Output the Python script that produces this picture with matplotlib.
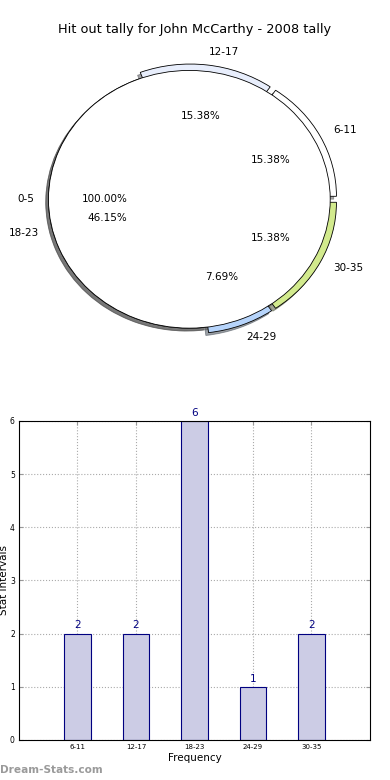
import matplotlib
matplotlib.use("Agg")
import matplotlib.pyplot as plt

# data
pie_labels = ["6-11", "12-17", "18-23", "24-29", "30-35"]
pie_counts = [2, 2, 6, 1, 2]
pie_colors = ["#ffffff", "#e8eefc", "#ffffff", "#b6d4fb", "#d2ea8d"]
pie_explode = [0.05, 0.05, 0.0, 0.045, 0.05]

overlay_labels = ["0-5"]
overlay_counts = [1]

bar_labels = ["6-11", "12-17", "18-23", "24-29", "30-35"]
bar_counts = [2, 2, 6, 1, 2]

title = "Hit out tally for John McCarthy - 2008 tally"

fig = plt.figure(figsize=(3.9, 7.8), dpi=100)

shadow_style = dict(ox=-0.014, oy=-0.016)

# pie part
ax1 = fig.add_axes([0.034, 0.538, 0.903, 0.413])
ax1.pie(
    pie_counts,
    labels=pie_labels,
    colors=pie_colors,
    explode=pie_explode,
    autopct="%1.2f%%",
    shadow=shadow_style,
    startangle=0,
    wedgeprops=dict(edgecolor="black", linewidth=0.6),
    textprops=dict(fontsize=7.5),
)
ax1.pie(
    overlay_counts,
    labels=overlay_labels,
    colors=["white"],
    autopct="%1.2f%%",
    shadow=shadow_style,
    startangle=0,
    wedgeprops=dict(edgecolor="black", linewidth=0.6),
    textprops=dict(fontsize=7.5),
)
ax1.set_aspect("auto")
ax1.set_xlim(-1.25, 1.25)
ax1.set_ylim(-1.25, 1.25)

fig.text(0.5, 1 - 30 / 780, title, ha="center", va="center", fontsize=9.3)

# bar part
ax2 = fig.add_axes([0.0487, 0.0513, 0.9, 0.409])
xpos = list(range(1, len(bar_counts) + 1))
ax2.bar(
    xpos,
    bar_counts,
    width=0.45,
    color="#cccce5",
    edgecolor="navy",
    linewidth=0.8,
    zorder=2,
)
for x, v in zip(xpos, bar_counts):
    ax2.text(x, v + 0.06, str(v), ha="center", va="bottom",
             color="navy", fontsize=7.5)

ax2.set_xlim(0, 6)
ax2.set_ylim(0, 6)
ax2.set_xticks(xpos)
ax2.set_xticklabels(bar_labels, fontsize=5)
ax2.set_yticks(range(0, 7))
ax2.tick_params(axis="y", labelsize=5.5)
ax2.tick_params(direction="in", top=True, right=True, length=3,
                color="#999999", pad=3)
ax2.grid(True, linestyle=":", color="#aaaaaa", linewidth=0.8, zorder=0)
ax2.set_axisbelow(True)
ax2.set_xlabel("Frequency", fontsize=7.5, labelpad=2)
ax2.set_ylabel("Stat Intervals", fontsize=7.5)
ax2.yaxis.set_label_coords(-0.028, 0.5)

fig.text(0.0, 1 - 770 / 780, "Dream-Stats.com", ha="left", va="center",
         fontsize=7.6, fontweight="bold", color="#9a9a9a")

fig.savefig("out.png", dpi=100)
